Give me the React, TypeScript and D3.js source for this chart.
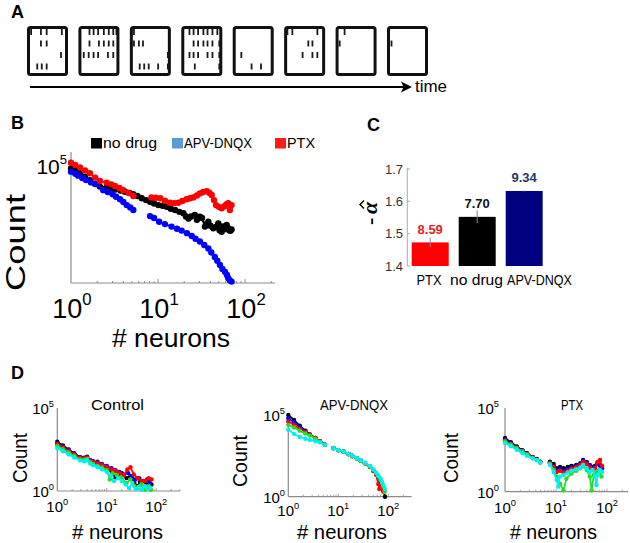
import React from "react";
import * as d3 from "d3";

type Pt = [number, number] | null;

// ---------------- Panel A: raster frames ([spike time as fraction of frame, neuron row]) -------------
const rasterFrames: [number, number][][] = [
  [[0.1, 0], [0.34, 0], [0.48, 0], [0.85, 0], [0.34, 1], [0.48, 1], [0.83, 2], [0.25, 3], [0.36, 3], [0.48, 3]],
  [[0.27, 0], [0.37, 0], [0.48, 0], [0.62, 0], [0.74, 0], [0.85, 0], [0.94, 0], [0.27, 1], [0.5, 1], [0.62, 1], [0.74, 1], [0.85, 1], [0.13, 2], [0.25, 2], [0.37, 2], [0.48, 2], [0.72, 2], [0.85, 2]],
  [[0.1, 0], [0.1, 1], [0.22, 1], [0.32, 1], [0.97, 2], [0.24, 3], [0.35, 3], [0.46, 3], [0.69, 3], [0.97, 3]],
  [[0.2, 0], [0.3, 0], [0.41, 0], [0.54, 0], [0.64, 0], [0.76, 0], [0.88, 0], [0.3, 1], [0.41, 1], [0.54, 1], [0.64, 1], [0.76, 1], [0.97, 1], [0.2, 2], [0.3, 2], [0.41, 2], [0.64, 2], [0.76, 2], [0.97, 2], [0.33, 3], [0.97, 3]],
  [[0.21, 2], [0.46, 3], [0.69, 3]],
  [[0.08, 0], [0.2, 0], [0.81, 0], [0.59, 1], [0.69, 1], [0.45, 2], [0.69, 2], [0.81, 2]],
  [[0.22, 0], [0.1, 1]],
  [[0.11, 1]],
];
const timeLabel = "time";

// ---------------- Panel B: count vs # neurons -------------
const bNoDrug: Pt[] = [
  [1, 79400], [1.12, 63000], [1.27, 49000], [1.45, 35000], [1.65, 25100], [1.9, 17000], [2.15, 13200], [2.57, 12300], [2.9, 11000], [3.2, 10000], [3.7, 8900], [4.17, 7900], [4.7, 7000], [5.2, 6300], [5.8, 5200], [6.5, 4200], [7.3, 3500], [8.1, 2950], [9, 2500], [10.1, 2140], [11.3, 2000], [12.6, 1820], [14, 1500], [15.7, 1320], [17.6, 1100], [19.6, 955], [21, 700], [22.4, 575], [24, 700], [26.5, 810], [28, 500], [30.3, 676], [32, 600], [34.6, 257], [36, 330], [37.9, 417], [40, 280], [43.2, 219], [46, 250], [49.3, 355], [51, 180], [53.9, 155], [56, 260], [58, 200], [61.5, 302], [64, 220], [66, 180], [68, 170], [70, 195],
];
const bApv: Pt[] = [
  [1, 57500], [1.12, 47000], [1.21, 38900], [1.35, 31000], [1.49, 25100], [1.7, 20000], [1.97, 17000], [2.35, 9300], [2.65, 7800], [3.01, 6200], [3.3, 4900], [3.66, 3800], [4, 2900], [4.37, 2140], [4.8, 1700], [5.2, 1320], null,
  [8.1, 724], [9, 600], [10.3, 417], [12, 330], [14.3, 257], [16.5, 210], [18.7, 174], [21.5, 135], [24.4, 102], [27, 78], [30.3, 59], [34, 42], [37.9, 30], [41, 20], [45, 13], [48, 9], [51.5, 5.9], [55, 4], [58.8, 3], [62, 2.2], [64.2, 1.6], [67, 1.3], [70, 1.15],
];
const bPtx: Pt[] = [
  [1, 138000], [1.12, 110000], [1.27, 87000], [1.45, 65000], [1.65, 49000], [1.9, 32000], [2.15, 22900], [2.57, 19500], [2.9, 16500], [3.2, 14100], [3.6, 11500], [3.98, 9300], [4.6, 7000], [5.2, 5250], null,
  [8.4, 4570], [9.4, 4400], [10.6, 4170], [12, 3300], [13.7, 2700], [15.3, 2600], [17.1, 2700], [19, 3200], [21.3, 3800], [23.3, 4200], [25.4, 4570], [28, 5500], [30.3, 6760], [33, 7800], [36.3, 8500], [38.8, 7200], [41.4, 5750], [44, 3500], [46.4, 2140], [50, 1800], [53.9, 1550], [58, 1900], [61, 2300], [64.2, 2570], [67, 1320], [70, 2140],
];
const bLegendLabels = ["no drug", "APV-DNQX", "PTX"];
const bXTicks = [1, 10, 100];

// ---------------- Panel C: exponent bars -------------
const cCategories = ["PTX", "no drug", "APV-DNQX"];
const cValues = [1.473, 1.552, 1.632];
const cErrors = [0.0145, 0.02, 0.002];
const cBarLabels = ["8.59", "7.70", "9.34"];
const cTicks = [1.4, 1.5, 1.6, 1.7];

// ---------------- Panel D: per-culture distributions (black, blue, red, green, cyan) -------------
const dTitles = ["Control", "APV-DNQX", "PTX"];
const dTicks = [1, 10, 100];
const dYTicks = [1, 100000];
const dControl: Pt[][] = [
  [[1, 930], [1.3, 560], [1.7, 320], [2.2, 190], [2.9, 110], [3.5, 100], [4, 115], [4.6, 70], [5.3, 55], [6.5, 45], [8, 35], [10, 25], [12.5, 15], [15, 6], [17, 9], [20, 12], [25, 6], [30, 8], [36, 3], [42, 2], [47, 3.6], [55, 2], [62, 3], [70, 4], [80, 2.5]],
  [[1, 760], [1.3, 480], [1.7, 290], [2.2, 175], [2.9, 105], [3.5, 95], [4, 105], [4.6, 72], [5.3, 62], [6.5, 58], [8, 42], [10, 32], [12.5, 24], [15, 18], [18, 14], [22, 10], [27, 12], [32, 7], [38, 5], [45, 6], [55, 4], [65, 5], [75, 3]],
  [[1, 650], [1.3, 420], [1.7, 260], [2.2, 160], [2.9, 100], [3.5, 92], [4, 100], [4.6, 68], [5.3, 55], [6.5, 48], [8, 38], [10, 28], [12.5, 20], [15, 16], [18, 12], [22, 9], [26, 20], [30, 27], [35, 10], [42, 6], [50, 4], [60, 4], [70, 6], [80, 5]],
  [[1, 520], [1.3, 330], [1.7, 210], [2.2, 130], [2.9, 80], [3.5, 78], [4, 85], [4.6, 55], [5.3, 42], [6.5, 32], [8, 26], [10, 18], [11.5, 5], [13, 12], [16, 9], [20, 6], [25, 3], [30, 5], [36, 2], [42, 1.5], [50, 2.5], [60, 1.2], [70, 2], [78, 1.2]],
  [[1, 370], [1.3, 250], [1.7, 160], [2.2, 105], [2.9, 68], [3.5, 62], [4, 70], [4.6, 45], [5.3, 35], [6.5, 27], [8, 20], [10, 14], [12, 8], [14, 4], [17, 6], [20, 4], [24, 2.5], [28, 1.5], [33, 3], [38, 1.3], [44, 1.8], [50, 1.2], [58, 2], [66, 1.4], [75, 1.6]],
];
const dApv: Pt[][] = [
  [[1, 100000], [1.3, 50000], [1.7, 22000], [2.2, 11000], [2.7, 6500], [3.5, 4000], [4.3, 2500], [5.4, 1500], null, [8, 950], [10, 720], [12.7, 580], [16, 420], [19, 320], [23.4, 230], [28, 165], [34, 115], [43, 70], [50, 42], [57, 26], [63, 16], [70, 9], [75, 5], [80, 2.5], [86, 1]],
  [[1, 63000], [1.3, 36000], [1.7, 18000], [2.2, 10000], [2.7, 6300], [3.5, 3900], [4.3, 2450], [5.4, 1500], null, [8, 940], [10, 710], [12.7, 570], [16, 410], [19, 310], [23.4, 225], [28, 160], [34, 112], [43, 68], [50, 40], [57, 25], [63, 15], [70, 8], [75, 4.5], [80, 2.2]],
  [[1, 40000], [1.3, 25000], [1.7, 14000], [2.2, 9000], [2.7, 6000], [3.5, 3800], [4.3, 2400], [5.4, 1480], null, [8, 930], [10, 700], [12.7, 560], [16, 400], [19, 300], [23.4, 220], [28, 158], [34, 110], [43, 66], [50, 38], [57, 22], [63, 6], [66, 3], [70, 5], [75, 3], [80, 2]],
  [[1, 25000], [1.3, 17000], [1.7, 11000], [2.2, 7500], [2.7, 5500], [3.5, 3600], [4.3, 2350], [5.4, 1470], null, [8, 920], [10, 700], [12.7, 560], [16, 400], [19, 305], [23.4, 222], [28, 160], [34, 112], [43, 70], [50, 44], [57, 28], [63, 18], [70, 11], [75, 7], [80, 4], [85, 2]],
  [[1, 12600], [1.3, 7000], [1.7, 4500], [2.2, 3500], [2.7, 3000], [3.5, 2500], [4.3, 2100], [5.4, 1480], null, [8, 940], [10, 720], [12.7, 580], [16, 420], [19, 320], [23.4, 235], [28, 170], [34, 120], [43, 75], [50, 48], [57, 30], [63, 20], [70, 13], [75, 8], [80, 5], [85, 3]],
];
const dPtx: Pt[][] = [
  [[1, 1600], [1.3, 900], [1.7, 500], [2.2, 300], [2.7, 200], [3.5, 120], [4.2, 90], [4.9, 63], null, [7.6, 63], [9, 45], [10.3, 25], [12, 30], [14, 25], [17, 30], [20, 35], [25, 40], [30, 50], [34, 80], [40, 60], [46, 40], [52, 30], [58, 35], [65, 50], [73, 40], [80, 30]],
  [[1, 1300], [1.3, 800], [1.7, 450], [2.2, 280], [2.7, 190], [3.5, 115], [4.2, 85], [4.9, 60], null, [7.6, 55], [9, 35], [10.3, 20], [12, 22], [14, 18], [17, 22], [20, 28], [25, 35], [30, 45], [34, 70], [40, 55], [46, 35], [52, 25], [58, 30], [65, 45], [73, 35], [80, 25]],
  [[1, 1100], [1.3, 700], [1.7, 420], [2.2, 260], [2.7, 180], [3.5, 110], [4.2, 80], [4.9, 58], null, [7.6, 50], [9, 30], [10.3, 15], [12, 18], [14, 14], [17, 18], [20, 24], [25, 30], [30, 40], [34, 60], [40, 45], [46, 28], [52, 20], [58, 25], [65, 60], [73, 80], [80, 35]],
  [[1, 1000], [1.3, 650], [1.7, 400], [2.2, 250], [2.7, 170], [3.5, 105], [4.2, 78], [4.9, 56], null, [7.6, 45], [9, 20], [10.3, 8], [12, 3], [14, 1.2], [16, 6], [20, 12], [25, 18], [30, 25], [34, 35], [40, 20], [46, 8], [50, 1.2], [55, 10], [62, 15], [70, 20], [78, 8]],
  [[1, 800], [1.3, 520], [1.7, 320], [2.2, 200], [2.7, 140], [3.5, 95], [4.2, 75], [4.9, 55], null, [7.6, 40], [9, 15], [10.3, 5], [11, 2], [12, 8], [14, 10], [17, 14], [20, 18], [25, 22], [30, 28], [34, 40], [40, 25], [46, 15], [52, 20], [58, 8], [62, 2.5], [66, 10], [73, 20], [80, 15]],
];

// ---------------- styling -------------
const SANS = "'Liberation Sans', Arial, Helvetica, sans-serif";
const AXIS = "#8c8c8c";
const bColors = ["#000000", "#0000ff", "#ff0000"];
const bLegendColors = ["#000000", "#5b9bd5", "#ff1a1a"];
const cBarColors = ["#ff0000", "#000000", "#000080"];
const cLabelColors = ["#ee2222", "#111111", "#1f3864"];
const dColors = ["#000000", "#0000ff", "#ff0000", "#22dd22", "#00f0f0"];

function Pow(props: { x: number; y: number; exp: string; size: number; anchor?: string }) {
  const { x, y, exp, size, anchor = "middle" } = props;
  return (
    <text x={x} y={y} fontSize={size} textAnchor={anchor} fontFamily={SANS} fill="#000">
      10
      <tspan dy={-size * 0.48} fontSize={size * 0.62}>
        {exp}
      </tspan>
    </text>
  );
}

function PanelA() {
  const fx = d3.scaleLinear().domain([0, 7]).range([27, 387]);
  const boxW = 41;
  const rowY = d3.scaleLinear().domain([0, 3]).range([29, 63.5]);
  return (
    <g>
      <text x={11} y={18} fontSize={18} fontWeight="bold" fontFamily={SANS}>A</text>
      {rasterFrames.map((spikes, i) => {
        const x0 = fx(i);
        return (
          <g key={i}>
            <rect x={x0 + 1.5} y={27.5} width={boxW - 3} height={47} rx={2} fill="#fff" stroke="#111" strokeWidth={3} />
            {spikes.map((s, j) => {
              const sx = Math.min(x0 + s[0] * boxW, x0 + boxW - 3);
              const y0 = rowY(s[1]);
              return <line key={j} x1={sx} x2={sx} y1={y0} y2={y0 + 6} stroke="#1a1a1a" strokeWidth={1.8} />;
            })}
          </g>
        );
      })}
      <line x1={30} x2={404} y1={87} y2={87} stroke="#000" strokeWidth={2.2} />
      <path d="M412,87 L401,81.5 L403.5,87 L401,92.5 Z" fill="#000" />
      <text x={415} y={92} fontSize={16} fontFamily={SANS} textLength={32} lengthAdjust="spacingAndGlyphs">{timeLabel}</text>
    </g>
  );
}

function PanelB() {
  const x = d3.scaleLog().domain([1, 221]).range([71, 275]);
  const y = d3.scaleLog().domain([1, Math.pow(10, 5.6)]).range([283, 152]);
  const line = d3
    .line<Pt>()
    .defined((d) => d != null)
    .x((d) => x((d as [number, number])[0]))
    .y((d) => y((d as [number, number])[1]));
  const series = [bNoDrug, bApv, bPtx];
  const minor = x.ticks().filter((t) => t > 1);
  const legX = [91, 172, 275];
  const legW = [54, 68, 28];
  return (
    <g>
      <text x={11} y={129} fontSize={18} fontWeight="bold" fontFamily={SANS}>B</text>
      {bLegendLabels.map((l, i) => (
        <g key={l}>
          <rect x={legX[i]} y={138} width={11} height={10.5} fill={bLegendColors[i]} />
          <text x={legX[i] + 12} y={148} fontSize={15.5} fontFamily={SANS} textLength={legW[i]} lengthAdjust="spacingAndGlyphs">{l}</text>
        </g>
      ))}
      <line x1={71} x2={71} y1={152} y2={283} stroke={AXIS} strokeWidth={1.2} />
      <line x1={71} x2={275} y1={283} y2={283} stroke={AXIS} strokeWidth={1.2} />
      {minor.map((t, i) => (
        <line key={i} x1={x(t)} x2={x(t)} y1={283} y2={bXTicks.includes(t) ? 279 : 281} stroke={AXIS} strokeWidth={1} />
      ))}
      {series.map((s, i) => (
        <g key={i}>
          <path d={line(s) || ""} fill="none" stroke={bColors[i]} strokeWidth={2} />
          {s.filter((d) => d != null).map((d, j) => (
            <circle key={j} cx={x((d as [number, number])[0])} cy={y((d as [number, number])[1])} r={3.2} fill={bColors[i]} />
          ))}
        </g>
      ))}
      {bXTicks.map((t, i) => (
        <Pow key={i} x={x(t) + 1} y={318} exp={String(Math.round(Math.log10(t)))} size={27} />
      ))}
      <Pow x={67} y={174} exp="5" size={21} anchor="end" />
      <text transform={`translate(25,242.5) rotate(-90)`} fontSize={28} textAnchor="middle" fontFamily={SANS} textLength={97} lengthAdjust="spacingAndGlyphs">Count</text>
      <text x={171} y={347} fontSize={25} textAnchor="middle" fontFamily={SANS} textLength={118} lengthAdjust="spacingAndGlyphs"># neurons</text>
    </g>
  );
}

function PanelC() {
  const y = d3.scaleLinear().domain([1.4, 1.7]).range([266, 169]);
  const x = d3.scaleBand<string>().domain(cCategories).range([408, 546.4]).paddingInner(0.213).paddingOuter(0.079);
  const labelX = [429, 476.5, 539.5];
  const labelW = [25, 53, 65];
  const serif = "'Liberation Serif', 'DejaVu Serif', serif";
  return (
    <g>
      <text x={367} y={131} fontSize={18} fontWeight="bold" fontFamily={SANS}>C</text>
      <line x1={407.3} x2={407.3} y1={168} y2={266} stroke="#aaa" strokeWidth={1} />
      {cTicks.map((t) => (
        <g key={t}>
          <line x1={407.3} x2={410} y1={y(t)} y2={y(t)} stroke="#aaa" strokeWidth={1} />
          <text x={403} y={y(t) + 4.5} fontSize={13} textAnchor="end" fontFamily={SANS} fill="#333">{t.toFixed(1)}</text>
        </g>
      ))}
      {cCategories.map((c, i) => {
        const bx = x(c) as number;
        const cx = bx + x.bandwidth() / 2;
        return (
          <g key={c}>
            <rect x={bx} y={y(cValues[i])} width={x.bandwidth()} height={y(1.4) - y(cValues[i])} fill={cBarColors[i]} />
            <line x1={cx} x2={cx} y1={y(cValues[i] - cErrors[i])} y2={y(cValues[i] + cErrors[i])} stroke="#888" strokeWidth={1} />
            <text x={cx} y={y(cValues[i]) - 8.5} fontSize={13} fontWeight="bold" textAnchor="middle" fontFamily={SANS} fill={cLabelColors[i]}>{cBarLabels[i]}</text>
            <text x={labelX[i]} y={285} fontSize={14} textAnchor="middle" fontFamily={SANS} textLength={labelW[i]} lengthAdjust="spacingAndGlyphs">{c}</text>
          </g>
        );
      })}
      <g transform="translate(377,226) rotate(-90)">
        <text x={1} y={0} fontSize={22} fontWeight="bold" fontFamily={serif}>-</text>
        <text x={12} y={0} fontSize={22} fontWeight="bold" fontStyle="italic" fontFamily={serif}>{"\u03B1"}</text>
        <path d="M17.5,-13 L21.5,-17 L25.5,-13" fill="none" stroke="#000" strokeWidth={1.5} />
      </g>
    </g>
  );
}

type DLayout = { x0: number; x1: number; dec: number; yTop: number; yBot: number; title: [number, number]; titleW: number; count: [number, number]; countW: number; neur: [number, number]; neurW: number; yLabX: number; xLabY: number };

const dLayouts: DLayout[] = [
  { x0: 57.3, x1: 180, dec: 49.5, yTop: 408, yBot: 491, title: [117.5, 410], titleW: 53, count: [27, 458], countW: 50, neur: [117.5, 539], neurW: 91, yLabX: 54, xLabY: 512 },
  { x0: 288.3, x1: 411.7, dec: 50, yTop: 415, yBot: 496.7, title: [354, 410], titleW: 68, count: [247, 461], countW: 52, neur: [342, 539], neurW: 90, yLabX: 285, xLabY: 516 },
  { x0: 505, x1: 628, dec: 51, yTop: 408, yBot: 491.7, title: [572, 410], titleW: 22, count: [458, 458], countW: 50, neur: [553.5, 539], neurW: 87, yLabX: 499, xLabY: 513 },
];

function PanelD(props: { idx: number; data: Pt[][] }) {
  const L = dLayouts[props.idx];
  const x = d3.scaleLog().domain([1, Math.pow(10, (L.x1 - L.x0) / L.dec)]).range([L.x0, L.x1]);
  const y = d3.scaleLog().domain([1, 1e5]).range([L.yBot, L.yTop]);
  const line = d3
    .line<Pt>()
    .defined((d) => d != null)
    .x((d) => x((d as [number, number])[0]))
    .y((d) => y((d as [number, number])[1]));
  const minor = x.ticks().filter((t) => t > 1);
  return (
    <g>
      <line x1={L.x0} x2={L.x0} y1={L.yTop} y2={L.yBot} stroke={AXIS} strokeWidth={1.2} />
      <line x1={L.x0} x2={L.x1} y1={L.yBot} y2={L.yBot} stroke={AXIS} strokeWidth={1.2} />
      {minor.map((t, i) => (
        <line key={i} x1={x(t)} x2={x(t)} y1={L.yBot} y2={L.yBot - (dTicks.includes(t) ? 3 : 2)} stroke={AXIS} strokeWidth={0.8} />
      ))}
      {props.data.map((s, i) => (
        <g key={i}>
          <path d={line(s) || ""} fill="none" stroke={dColors[i]} strokeWidth={1.7} />
          {s.filter((d) => d != null).map((d, j) => (
            <circle key={j} cx={x((d as [number, number])[0])} cy={y((d as [number, number])[1])} r={2.2} fill={dColors[i]} />
          ))}
        </g>
      ))}
      {dTicks.map((t, i) => (
        <Pow key={i} x={x(t)} y={L.xLabY} exp={String(Math.round(Math.log10(t)))} size={15} />
      ))}
      {dYTicks.map((t, i) => (
        <Pow key={"y" + i} x={L.yLabX} y={y(t) + 6} exp={String(Math.round(Math.log10(t)))} size={15} anchor="end" />
      ))}
      <text x={L.title[0]} y={L.title[1]} fontSize={14} textAnchor="middle" fontFamily={SANS} textLength={L.titleW} lengthAdjust="spacingAndGlyphs">{dTitles[props.idx]}</text>
      <text transform={`translate(${L.count[0]},${L.count[1]}) rotate(-90)`} fontSize={20} textAnchor="middle" fontFamily={SANS} textLength={L.countW} lengthAdjust="spacingAndGlyphs">Count</text>
      <text x={L.neur[0]} y={L.neur[1]} fontSize={20} textAnchor="middle" fontFamily={SANS} textLength={L.neurW} lengthAdjust="spacingAndGlyphs"># neurons</text>
    </g>
  );
}

export default function App() {
  return (
    <svg width={630} height={543} viewBox="0 0 630 543" style={{ position: "absolute", left: 0, top: 0, background: "#fff" }}>
      <rect x={0} y={0} width={630} height={543} fill="#fff" />
      <PanelA />
      <PanelB />
      <PanelC />
      <text x={11} y={379} fontSize={18} fontWeight="bold" fontFamily={SANS}>D</text>
      <PanelD idx={0} data={dControl} />
      <PanelD idx={1} data={dApv} />
      <PanelD idx={2} data={dPtx} />
    </svg>
  );
}
